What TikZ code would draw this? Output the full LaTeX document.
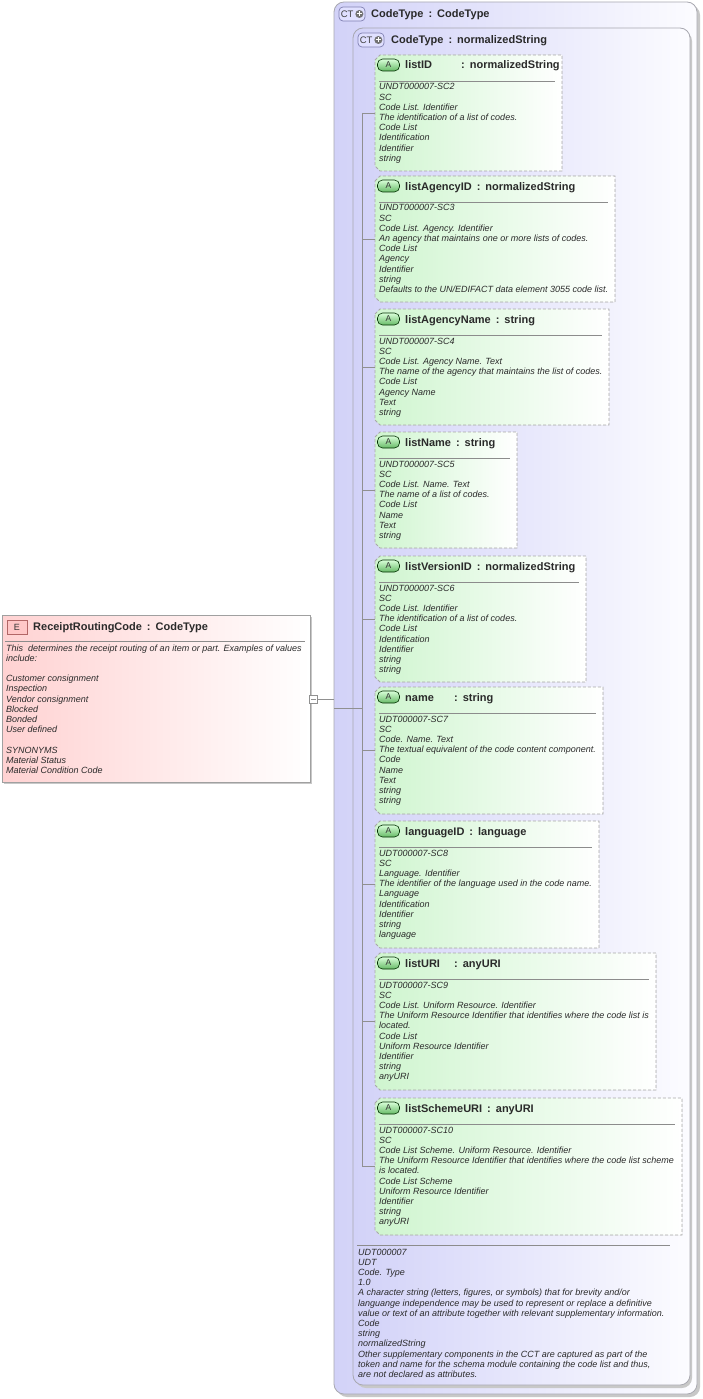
\documentclass[tikz,border=0pt]{standalone}
\usepackage{fontspec}
\setmainfont{Liberation Sans}
\usetikzlibrary{calc}
\definecolor{ctL}{HTML}{D2D2F8}
\definecolor{ctR}{HTML}{FCFCFF}
\definecolor{ctB}{HTML}{A8A8B0}
\definecolor{atL}{HTML}{CFF5CF}
\definecolor{atR}{HTML}{FFFFFF}
\definecolor{atB}{HTML}{A8A8A8}
\definecolor{elL}{HTML}{FFD2D2}
\definecolor{elR}{HTML}{FFFFFF}
\definecolor{elB}{HTML}{A0A0A0}
\definecolor{lineC}{HTML}{909090}
\definecolor{txt}{HTML}{2A2A2A}
\definecolor{shd}{HTML}{C8C8C8}
\newcommand\ttl{\fontsize{11}{13}\selectfont\bfseries}
\newcommand\bdy{\fontsize{9}{10.2}\selectfont\itshape}
\newcommand\colsep{\hspace{5pt}:\hspace{5pt}}
\newcommand\bodybox[1]{\parbox[t]{420pt}{\raggedright\bdy\setlength\baselineskip{10.2pt}#1}}
\newcommand\chamf[1]{($(#1.north west)+(0,5)$) -- ($(#1.north west)+(5,0)$) -- (#1.north east) -- (#1.south east) -- ($(#1.south west)+(5,0)$) -- ($(#1.south west)+(0,-5)$) -- cycle}
\newcommand\attr[7]{%
  \node[holder, minimum width={#4-375}, minimum height={#3-#2}] (#1) at (375,#2) {};
  \path[fill=shd, shift={(2,2)}] \chamf{#1};
  \path[left color=atL, right color=atR] \chamf{#1};
  \draw[atB, dashed, dash pattern=on 3pt off 2pt, line width=0.8pt] \chamf{#1};
  \node[aicon] (#1icon) at ($(#1.north west)+(13.5,10)$) {A};
  \node[anchor=base west, inner sep=0, text=txt] (#1title) at ($(#1.north west)+(30,14)$) {\ttl #5\colsep#6};
  \draw[sepline] ($(#1.north west)+(4,26)$) -- ($(#1.north east)+(-7,26)$);
  \node[anchor=base west, inner sep=0, text=txt] (#1body) at ($(#1.north west)+(4,35)$) {\bodybox{#7}};
  \draw[conn] (#1.west -| bus) -- (#1.west);
}
\begin{document}
\begin{tikzpicture}[x=1pt,y=-1pt,
  holder/.style={draw=none, inner sep=0, outer sep=0, anchor=north west, minimum width=10pt, minimum height=10pt},
  aicon/.style={draw=black!70!green!60!black, line width=0.6pt, rounded corners=5pt, top color=green!15, bottom color=green!55!black!60, minimum width=22pt, minimum height=12pt, inner sep=0, font=\fontsize{8.5}{9}\selectfont, text=black!80},
  sepline/.style={draw=black!45, line width=0.6pt},
  conn/.style={draw=lineC, line width=0.7pt},
  ctbox/.style={holder, draw=ctB, line width=0.8pt, rounded corners=10pt, left color=ctL, right color=ctR},
  cticon/.style={draw=black!60!blue!50, line width=0.7pt, rounded corners=4pt, fill=blue!12, minimum width=26pt, minimum height=14pt, inner sep=0}
]
\useasboundingbox (0,0) rectangle (702,1399);
% outer CT box
\fill[shd, rounded corners=10pt] (337,5) rectangle (700,1397);
\node[ctbox, minimum width=363pt, minimum height=1392pt] (outer) at (334,2) {};
\node[cticon] (ctic1) at (352,14) {};
\node[anchor=west, inner sep=0, font=\fontsize{9.5}{9}\selectfont, text=black!75] at ($(ctic1.west)+(2,0)$) {CT};
\node[circle, fill=black!55, minimum size=8pt, inner sep=0] (pl1) at ($(ctic1.east)+(-6,0)$) {};
\draw[white, line width=1pt] ($(pl1)+(-2.5,0)$) -- ($(pl1)+(2.5,0)$) ($(pl1)+(0,-2.5)$) -- ($(pl1)+(0,2.5)$);
\node[anchor=base west, inner sep=0, text=txt] (ctt1) at (371,18) {\ttl CodeType\colsep CodeType};
% inner CT box
\fill[shd, rounded corners=10pt] (356,31) rectangle (692,1388);
\node[ctbox, minimum width=337pt, minimum height=1357pt] (inner) at (353,28) {};
\node[cticon] (ctic2) at (371,40) {};
\node[anchor=west, inner sep=0, font=\fontsize{9.5}{9}\selectfont, text=black!75] at ($(ctic2.west)+(2,0)$) {CT};
\node[circle, fill=black!55, minimum size=8pt, inner sep=0] (pl2) at ($(ctic2.east)+(-6,0)$) {};
\draw[white, line width=1pt] ($(pl2)+(-2.5,0)$) -- ($(pl2)+(2.5,0)$) ($(pl2)+(0,-2.5)$) -- ($(pl2)+(0,2.5)$);
\node[anchor=base west, inner sep=0, text=txt] (ctt2) at (391,44) {\ttl CodeType\colsep normalizedString};
\coordinate (bus) at (362,0);
% attributes
\attr{a1}{55}{171}{562}{\makebox[51pt][l]{listID}}{normalizedString}{UNDT000007-SC2\\SC\\Code List. Identifier\\The identification of a list of codes.\\Code List\\Identification\\Identifier\\string}
\attr{a2}{176}{302}{615}{listAgencyID}{normalizedString}{UNDT000007-SC3\\SC\\Code List. Agency. Identifier\\An agency that maintains one or more lists of codes.\\Code List\\Agency\\Identifier\\string\\Defaults to the UN/EDIFACT data element 3055 code list.}
\attr{a3}{309}{425}{609}{listAgencyName}{string}{UNDT000007-SC4\\SC\\Code List. Agency Name. Text\\The name of the agency that maintains the list of codes.\\Code List\\Agency Name\\Text\\string}
\attr{a4}{432}{548}{517}{listName}{string}{UNDT000007-SC5\\SC\\Code List. Name. Text\\The name of a list of codes.\\Code List\\Name\\Text\\string}
\attr{a5}{556}{682}{586}{listVersionID}{normalizedString}{UNDT000007-SC6\\SC\\Code List. Identifier\\The identification of a list of codes.\\Code List\\Identification\\Identifier\\string\\string}
\attr{a6}{687}{814}{603}{\makebox[44pt][l]{name}}{string}{UDT000007-SC7\\SC\\Code. Name. Text\\The textual equivalent of the code content component.\\Code\\Name\\Text\\string\\string}
\attr{a7}{821}{948}{599}{languageID}{language}{UDT000007-SC8\\SC\\Language. Identifier\\The identifier of the language used in the code name.\\Language\\Identification\\Identifier\\string\\language}
\attr{a8}{953}{1090}{656}{\makebox[44pt][l]{listURI}}{anyURI}{UDT000007-SC9\\SC\\Code List. Uniform Resource. Identifier\\The Uniform Resource Identifier that identifies where the code list is\\located.\\Code List\\Uniform Resource Identifier\\Identifier\\string\\anyURI}
\attr{a9}{1098}{1235}{682}{listSchemeURI}{anyURI}{UDT000007-SC10\\SC\\Code List Scheme. Uniform Resource. Identifier\\The Uniform Resource Identifier that identifies where the code list scheme\\is located.\\Code List Scheme\\Uniform Resource Identifier\\Identifier\\string\\anyURI}
\draw[conn] (a1.west -| bus) -- (a9.west -| bus);
% inner box footer
\draw[sepline] (357,1245) -- (670,1245);
\node[anchor=base west, inner sep=0, text=txt] (foot) at (358,1255) {\bodybox{UDT000007\\UDT\\Code. Type\\1.0\\A character string (letters, figures, or symbols) that for brevity and/or\\languange independence may be used to represent or replace a definitive\\value or text of an attribute together with relevant supplementary information.\\Code\\string\\normalizedString\\Other supplementary components in the CCT are captured as part of the\\token and name for the schema module containing the code list and thus,\\are not declared as attributes.}};
% element
\fill[shd] (4,617) rectangle (312,784);
\node[holder, draw=elB, line width=0.8pt, left color=elL, right color=elR, minimum width=308pt, minimum height=167pt] (elem) at (2,615) {};
\node[draw=black!50!red!60, line width=0.6pt, fill=red!22, minimum width=20pt, minimum height=14pt, inner sep=0, font=\fontsize{9}{9}\selectfont, text=black!80] (eicon) at (17,627) {E};
\node[anchor=base west, inner sep=0, text=txt] (etitle) at (33,630) {\ttl ReceiptRoutingCode\colsep CodeType};
\draw[sepline] (5,641) -- (305,641);
\node[anchor=base west, inner sep=0, text=txt] (ebody) at (6,651) {\bodybox{This\ \ determines the receipt routing of an item or part. Examples of values\\include:\\[10.2pt]Customer consignment\\Inspection\\Vendor consignment\\Blocked\\Bonded\\User defined\\[10.2pt]SYNONYMS\\Material Status\\Material Condition Code}};
% connectors
\node[draw=lineC, fill=white, line width=0.6pt, minimum size=8pt, inner sep=0] (mbox) at (313.5,699) {};
\draw[lineC, line width=0.6pt] ($(mbox)+(-2.2,0)$) -- ($(mbox)+(2.2,0)$);
\draw[conn] (mbox.east) -- (outer.west |- mbox);
\coordinate (join) at (362,708);
\draw[conn] (outer.west |- join) -- (join);
\end{tikzpicture}
\end{document}
